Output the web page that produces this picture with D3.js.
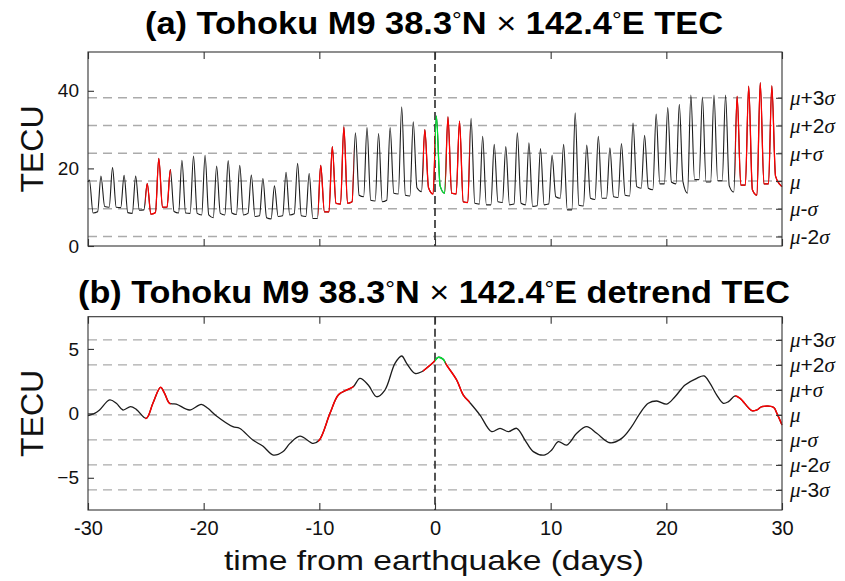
<!DOCTYPE html>
<html>
<head>
<meta charset="utf-8">
<script src="https://cdn.jsdelivr.net/npm/d3@7"></script>
<style>
  html, body { margin: 0; padding: 0; background: #fff; }
  svg { display: block; font-family: "Liberation Sans", Arial, Helvetica, sans-serif; }
</style>
</head>
<body>
<svg id="chart" width="845" height="581"></svg>
<script>
// ---------------------------------------------------------------
// Vertical TEC above the Tohoku epicentre, days -30 .. +30
// Each day: afternoon peak, early-night level, pre-dawn level
// ---------------------------------------------------------------
const dayIndex = d3.range(-30, 30);           // day number relative to the mainshock
const sampleOffset = { peak: 0.12, night: 0.44, dawn: 0.83 }; // time of day (fraction) of each sample

const peakTEC = [
  17.0, 18.0, 20.2, 18.2, 18.0, 16.1, 22.6, 19.7, 22.1, 23.2,   // -30 .. -21
  23.4, 20.6, 22.0, 20.8, 18.3, 17.4, 15.5, 19.0, 21.3, 18.7,   // -20 .. -11
  20.8, 25.6, 30.7, 29.2, 30.5, 29.0, 30.5, 35.9, 32.0, 30.0,   // -10 .. -1
  33.5, 33.3, 32.2, 32.9, 28.3, 26.2, 25.6, 29.2, 26.6, 25.1,   //   0 .. 9
  23.4, 26.2, 34.3, 26.0, 28.3, 25.3, 26.4, 31.7, 28.5, 34.0,   //  10 .. 19
  35.7, 36.5, 38.9, 38.4, 38.9, 38.9, 38.6, 41.2, 42.1, 41.3    //  20 .. 29
];
const nightTEC = [
  8.5, 10.2, 10.0, 8.6, 9.2, 8.2, 10.0, 8.9, 8.5, 8.4,
  8.0, 8.4, 8.5, 8.0, 7.6, 7.3, 7.6, 8.0, 7.8, 7.1,
  8.8, 11.0, 11.0, 13.1, 11.8, 11.4, 13.6, 13.1, 15.0, 15.0,
  15.5, 13.6, 11.4, 11.0, 10.6, 11.4, 10.6, 11.0, 10.2, 10.6,
  12.7, 9.3, 10.5, 12.3, 12.3, 12.7, 13.1, 15.3, 14.9, 16.0,
  16.5, 16.5, 17.1, 16.5, 16.8, 15.5, 15.7, 14.5, 16.0, 18.0
];
const dawnTEC = [
  8.8, 10.0, 9.9, 8.4, 9.3, 8.6, 10.0, 8.5, 8.4, 8.0,
  7.3, 8.0, 8.1, 8.4, 7.8, 7.0, 7.8, 8.3, 7.6, 7.1,
  8.8, 10.8, 11.4, 12.7, 11.6, 11.8, 13.4, 12.9, 14.0, 13.4,
  13.6, 13.4, 11.2, 10.8, 10.6, 11.2, 10.8, 10.6, 10.4, 10.8,
  12.3, 9.3, 10.3, 12.0, 12.3, 12.5, 12.9, 14.9, 14.5, 16.0,
  16.0, 13.6, 17.1, 16.5, 16.8, 13.9, 15.7, 13.1, 16.0, 15.8
];
const firstSample = { t: -30, v: 16.5 };
const lastSample = { t: 30, v: 15.3 };

// Detrended TEC (TECU) against days from the earthquake
const detrendDays = [
  -30.0, -29.43, -29.0, -28.13, -27.55, -26.98, -26.32, -25.83, -24.97, -24.39,
  -23.73, -23.38, -22.95, -22.37, -21.22, -20.21, -19.64, -18.92, -17.48, -16.9,
  -15.75, -14.89, -13.97, -13.16, -12.54, -11.68, -10.52, -10.0, -9.08, -8.36,
  -7.64, -7.06, -6.49, -5.77, -5.05, -4.33, -3.46, -2.88, -2.45, -1.73,
  -1.15, -0.58, -0.09, 0.28, 0.71, 1.0, 1.87, 2.45, 3.02, 3.89,
  4.9, 5.62, 6.34, 7.06, 7.78, 8.5, 9.51, 10.09, 10.66, 11.38,
  12.25, 13.11, 13.98, 15.13, 16.14, 17.0, 17.72, 18.44, 19.17, 20.03,
  20.75, 21.62, 22.63, 23.26, 23.78, 24.36, 24.93, 25.37, 25.94, 26.38,
  27.39, 27.82, 28.26, 29.27, 29.56, 30.0
];
const detrendTEC = [
  -0.18, 0.0, 0.26, 1.04, 0.78, 0.26, 0.52, 0.31, -0.39, 0.78,
  2.02, 1.55, 0.78, 0.72, 0.26, 0.70, 0.39, -0.18, -1.03, -1.16,
  -2.07, -2.54, -3.24, -2.98, -2.33, -1.76, -2.33, -2.07, 0.0, 1.42,
  1.81, 2.07, 2.72, 2.20, 1.29, 1.81, 3.88, 4.45, 3.88, 3.10,
  3.23, 3.62, 4.01, 4.35, 4.19, 3.75, 2.59, 1.42, 0.83, -0.13,
  -1.42, -1.16, -1.42, -1.16, -2.07, -2.97, -3.23, -2.84, -2.20, -2.46,
  -1.55, -1.03, -1.55, -2.28, -1.94, -1.03, 0.0, 0.78, 0.96, 0.72,
  1.29, 2.2, 2.72, 2.90, 2.33, 1.42, 0.78, 0.91, 1.35, 1.16,
  0.21, 0.26, 0.52, 0.47, 0.0, -0.9
];

// Mean and standard deviation used for the reference levels
const tecMean = 16.75, tecStd = 7.15;
const detrendMean = -0.12, detrendStd = 1.94;
const sigmaStepsA = [3, 2, 1, 0, -1, -2];
const sigmaStepsB = [3, 2, 1, 0, -1, -2, -3];

// Axis ticks
const xTicks = [-30, -20, -10, 0, 10, 20, 30];
const yTicksA = [0, 20, 40];
const yTicksB = [-5, 0, 5];

// Anomalous windows (days) and their highlight colour
const flagFrom  = [-25.05, -10.1, -1.05, 0.0, 0.9, 25.95];
const flagTo    = [-22.85, -7.05, 0.0, 0.9, 3.0, 30.0];
const flagColor = ["#ff0000", "#ff0000", "#ff0000", "#00e030", "#ff0000", "#ff0000"];

// ---------------------------------------------------------------
const svg = d3.select("#chart");
const axisColor = "#333";
const x = d3.scaleLinear().domain([-30, 30]).range([88, 782]);

const tecSeries = [firstSample];
dayIndex.forEach((d, i) => {
  tecSeries.push({ t: d + sampleOffset.peak, v: peakTEC[i] });
  tecSeries.push({ t: d + sampleOffset.night, v: nightTEC[i] });
  tecSeries.push({ t: d + sampleOffset.dawn, v: dawnTEC[i] });
});
tecSeries.push(lastSample);

const detrendSeries = detrendDays.map((t, i) => ({ t, v: detrendTEC[i] }));

function sigmaLabel(sel, k) {
  const serif = '"Liberation Serif", "Times New Roman", serif';
  sel.append("tspan").attr("font-family", serif).attr("font-style", "italic").text("\u03bc");
  if (k === 0) return;
  const sign = k > 0 ? "+" : "-";
  const n = Math.abs(k) > 1 ? String(Math.abs(k)) : "";
  sel.append("tspan").text(sign + n);
  sel.append("tspan").attr("font-family", serif).attr("font-style", "italic").text("\u03c3");
}

function drawPanel(opt) {
  const { id, y, series, curve, width, mean, std, steps, yTicks, showXLabels } = opt;
  const [yBottom, yTop] = y.range();
  const g = svg.append("g");

  // reference levels
  g.selectAll("line.level").data(steps).join("line")
    .attr("class", "level")
    .attr("x1", x(-30)).attr("x2", x(30))
    .attr("y1", k => y(mean + k * std)).attr("y2", k => y(mean + k * std))
    .attr("stroke", "#ababab").attr("stroke-width", 1.4)
    .attr("stroke-dasharray", "9,6");

  // earthquake time
  g.append("line")
    .attr("x1", x(0)).attr("x2", x(0)).attr("y1", yTop).attr("y2", yBottom)
    .attr("stroke", "#2a2a2a").attr("stroke-width", 1.6).attr("stroke-dasharray", "8,4");

  const line = d3.line().x(d => x(d.t)).y(d => y(d.v)).curve(curve);

  g.append("path").datum(series)
    .attr("d", line).attr("fill", "none")
    .attr("stroke", "#1c1c1c").attr("stroke-width", width)
    .attr("stroke-linejoin", "round");

  // highlighted windows
  flagFrom.forEach((a, i) => {
    const cid = `clip-${id}-${i}`;
    svg.append("defs").append("clipPath").attr("id", cid)
      .append("rect")
      .attr("x", x(a)).attr("width", x(flagTo[i]) - x(a))
      .attr("y", yTop - 5).attr("height", yBottom - yTop + 10);
    g.append("path").datum(series)
      .attr("d", line).attr("fill", "none")
      .attr("stroke", flagColor[i]).attr("stroke-width", width + 0.2)
      .attr("stroke-linejoin", "round")
      .attr("clip-path", `url(#${cid})`);
  });

  // box
  g.append("rect")
    .attr("x", x(-30)).attr("y", yTop)
    .attr("width", x(30) - x(-30)).attr("height", yBottom - yTop)
    .attr("fill", "none").attr("stroke", axisColor).attr("stroke-width", 1.1);

  // left axis
  const left = g.append("g").attr("transform", `translate(${x(-30)},0)`)
    .call(d3.axisLeft(y).tickValues(yTicks).tickSizeInner(-6).tickSizeOuter(0).tickPadding(9));
  // right axis (sigma levels)
  const right = g.append("g").attr("transform", `translate(${x(30)},0)`)
    .call(d3.axisRight(y).tickValues(steps.map(k => mean + k * std)).tickSizeInner(-6).tickSizeOuter(0).tickFormat(""));
  // top axis
  const top = g.append("g").attr("transform", `translate(0,${yTop})`)
    .call(d3.axisTop(x).tickValues(xTicks).tickSizeInner(-7).tickSizeOuter(0).tickFormat(""));
  // bottom axis
  const bottom = g.append("g").attr("transform", `translate(0,${yBottom})`)
    .call(d3.axisBottom(x).tickValues(xTicks).tickSizeInner(-7).tickSizeOuter(0).tickPadding(11)
      .tickFormat(showXLabels ? d3.format("d") : ""));

  [left, right, top, bottom].forEach(a => {
    a.select(".domain").remove();
    a.selectAll(".tick line").attr("stroke", axisColor).attr("stroke-width", 1.1);
    a.selectAll("text").attr("fill", "#111").attr("font-family", '"Liberation Sans", Arial, sans-serif');
  });
  left.selectAll("text").attr("font-size", 19);
  bottom.selectAll("text").attr("font-size", 20).text(d => d3.format("d")(d).replace("\u2212", "-"));
  if (!showXLabels) bottom.selectAll("text").remove();

  // sigma labels on the right
  steps.forEach(k => {
    const t = g.append("text")
      .attr("x", 790).attr("y", y(mean + k * std)).attr("dy", "0.36em")
      .attr("font-size", 21).attr("fill", "#111");
    sigmaLabel(t, k);
  });

  // y label
  g.append("text")
    .attr("transform", `translate(43,${(yTop + yBottom) / 2}) rotate(-90)`)
    .attr("text-anchor", "middle").attr("font-size", 32).attr("fill", "#111")
    .text("TECU");
}

function drawTitle(yBase, label, tail, width) {
  const t = svg.append("text")
    .attr("x", 434).attr("y", yBase).attr("text-anchor", "middle")
    .attr("font-size", 31).attr("font-weight", "bold").attr("fill", "#000")
    .attr("textLength", width).attr("lengthAdjust", "spacingAndGlyphs");
  t.append("tspan").text(label + " Tohoku M9 38.3");
  t.append("tspan").attr("font-weight", "normal").attr("font-size", 22).attr("dy", -6).text("\u00b0");
  t.append("tspan").attr("dy", 6).text("N ");
  t.append("tspan").attr("font-weight", "normal").text("\u00d7");
  t.append("tspan").text(" 142.4");
  t.append("tspan").attr("font-weight", "normal").attr("font-size", 22).attr("dy", -6).text("\u00b0");
  t.append("tspan").attr("dy", 6).text("E " + tail);
}

drawTitle(34, "(a)", "TEC", 578);
drawPanel({
  id: "a",
  y: d3.scaleLinear().domain([0, 50]).range([246, 52]),
  series: tecSeries, curve: d3.curveMonotoneX, width: 1.1,
  mean: tecMean, std: tecStd, steps: sigmaStepsA,
  yTicks: yTicksA, showXLabels: false
});

drawTitle(303, "(b)", "detrend TEC", 712);
drawPanel({
  id: "b",
  y: d3.scaleLinear().domain([-7.5, 7.5]).range([510, 316.7]),
  series: detrendSeries, curve: d3.curveCatmullRom.alpha(0.5), width: 1.3,
  mean: detrendMean, std: detrendStd, steps: sigmaStepsB,
  yTicks: yTicksB, showXLabels: true
});

svg.append("text")
  .attr("x", 434).attr("y", 570).attr("text-anchor", "middle")
  .attr("font-size", 28).attr("fill", "#111")
  .attr("textLength", 420).attr("lengthAdjust", "spacingAndGlyphs")
  .text("time from earthquake (days)");
</script>
</body>
</html>
